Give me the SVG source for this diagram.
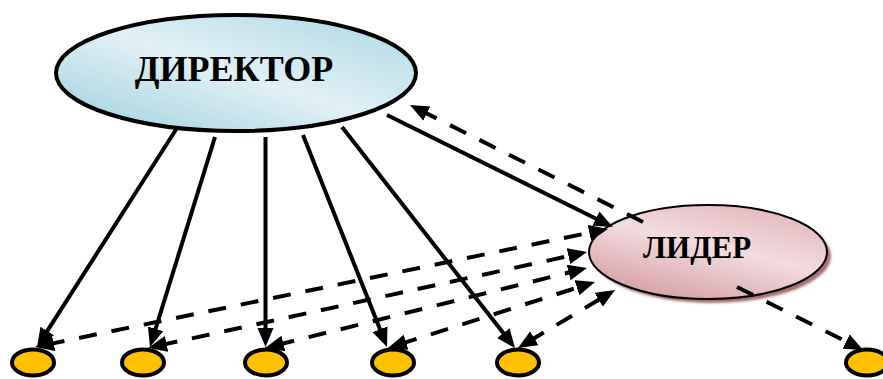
<svg xmlns="http://www.w3.org/2000/svg" width="883" height="379" viewBox="0 0 883 379">
  <defs>
    <linearGradient id="gradDirector" x1="0" y1="1" x2="1" y2="0">
      <stop offset="0" stop-color="#9ccfdd"/>
      <stop offset="0.5" stop-color="#e1f1f6"/>
      <stop offset="1" stop-color="#a9d7e3"/>
    </linearGradient>
    <linearGradient id="gradLeader" x1="0.2" y1="1" x2="0.8" y2="0">
      <stop offset="0" stop-color="#d49ba1"/>
      <stop offset="0.55" stop-color="#f3dcdf"/>
      <stop offset="1" stop-color="#e3b6bb"/>
    </linearGradient>
    <filter id="soft" x="-10%" y="-10%" width="120%" height="120%">
      <feGaussianBlur stdDeviation="1.2"/>
    </filter>
    <marker id="head" markerUnits="userSpaceOnUse" markerWidth="22" markerHeight="18" refX="7" refY="8" orient="auto-start-reverse">
      <path d="M0,0 L19,8 L0,16 z" fill="#000"/>
    </marker>
    <style>
      .node-main { stroke: #000; stroke-width: 4; }
      .node-leader { stroke: #000; stroke-width: 2; }
      .node-member { fill: #ffc000; stroke: #000; stroke-width: 4; }
      .label { font-family: "Liberation Serif", "Times New Roman", serif; font-weight: bold; fill: #000; text-anchor: middle; }
      .solid { stroke: #000; stroke-width: 4; fill: none; marker-end: url(#head); }
      .dash { stroke: #000; stroke-width: 4; fill: none; stroke-dasharray: 18 15; marker-end: url(#head); }
      .dash2 { stroke: #000; stroke-width: 4; fill: none; stroke-dasharray: 18 15; marker-start: url(#head); marker-end: url(#head); }
    </style>
  </defs>

  <!-- director -->
  <g id="director">
    <ellipse cx="236" cy="73" rx="180" ry="58" fill="url(#gradDirector)" class="node-main"/>
    <text x="234" y="81" class="label" font-size="36">ДИРЕКТОР</text>
  </g>

  <!-- leader -->
  <g id="leader">
    <ellipse cx="712" cy="256" rx="119" ry="47" fill="#a87272" filter="url(#soft)"/>
    <ellipse cx="708" cy="252" rx="119" ry="47" fill="url(#gradLeader)" class="node-leader"/>
    <text x="697" y="258" class="label" font-size="31">ЛИДЕР</text>
  </g>

  <!-- group members -->
  <g id="member1"><ellipse cx="33" cy="362.5" rx="21" ry="13" class="node-member"/></g>
  <g id="member2"><ellipse cx="143" cy="362.5" rx="21" ry="13" class="node-member"/></g>
  <g id="member3"><ellipse cx="266" cy="362.5" rx="21" ry="13" class="node-member"/></g>
  <g id="member4"><ellipse cx="393" cy="362.5" rx="21" ry="13" class="node-member"/></g>
  <g id="member5"><ellipse cx="518" cy="362.5" rx="21" ry="13" class="node-member"/></g>
  <g id="member6"><ellipse cx="867" cy="362.5" rx="21" ry="13" class="node-member"/></g>

  <!-- connectors -->
  <g id="connectors">
    <!-- director to members -->
    <line x1="177" y1="128" x2="43.5" y2="336.9" class="solid"/>
    <line x1="215" y1="137" x2="153.5" y2="335.5" class="solid"/>
    <line x1="265.5" y1="137" x2="265.5" y2="335" class="solid"/>
    <line x1="303" y1="135" x2="382.6" y2="335.8" class="solid"/>
    <line x1="342" y1="127" x2="507.6" y2="338.6" class="solid"/>
    <!-- director to leader -->
    <line x1="387" y1="115" x2="602.2" y2="221.7" class="solid"/>
    <!-- leader to director -->
    <line x1="643" y1="222" x2="420.7" y2="110.4" class="dash"/>
    <!-- leader to outside member -->
    <line x1="737" y1="287" x2="852.3" y2="344.6" class="dash"/>
    <!-- members and leader, both ways -->
    <line x1="46.8" y1="344.6" x2="596.2" y2="231.4" class="dash2"/>
    <line x1="159.7" y1="345.4" x2="575.3" y2="254.6" class="dash2"/>
    <line x1="276.6" y1="345.1" x2="575.4" y2="270.9" class="dash2"/>
    <line x1="399.4" y1="344.4" x2="583.6" y2="285.6" class="dash2"/>
    <line x1="528.3" y1="341.8" x2="604.7" y2="296.2" class="dash2"/>
  </g>
</svg>
